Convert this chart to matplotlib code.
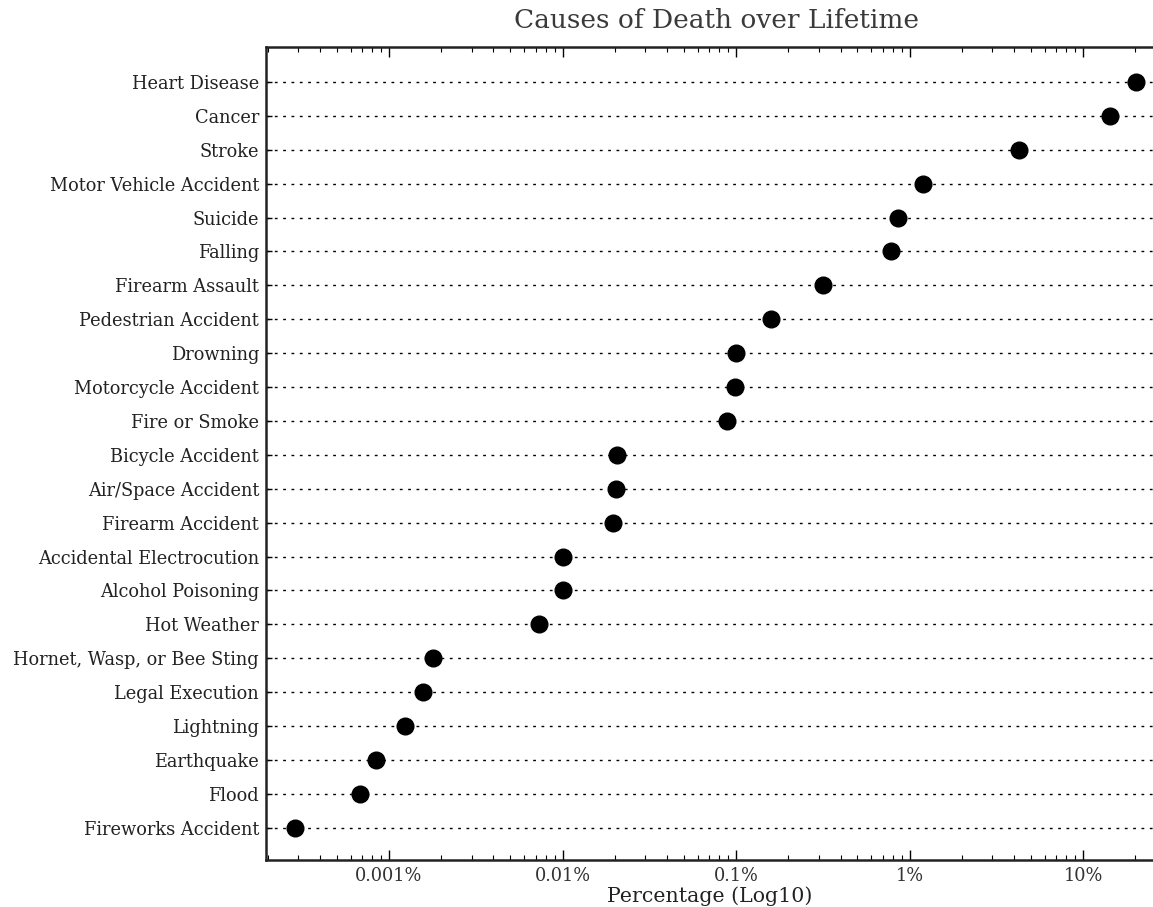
import numpy as np
import matplotlib
matplotlib.use("Agg")
import matplotlib.pyplot as plt
import matplotlib.ticker as ticker

causes = [
    "Heart Disease", "Cancer", "Stroke", "Motor Vehicle Accident", "Suicide",
    "Falling", "Firearm Assault", "Pedestrian Accident", "Drowning",
    "Motorcycle Accident", "Fire or Smoke", "Bicycle Accident",
    "Air/Space Accident", "Firearm Accident", "Accidental Electrocution",
    "Alcohol Poisoning", "Hot Weather", "Hornet, Wasp, or Bee Sting",
    "Legal Execution", "Lightning", "Earthquake", "Flood", "Fireworks Accident",
]
# lifetime odds, in percent
percent = [
    20.2, 14.3, 4.25, 1.2, 0.853,
    0.777, 0.315, 0.158, 0.0994,
    0.098, 0.089, 0.0206,
    0.0202, 0.0196, 0.0100,
    0.0100, 0.00727, 0.00179,
    0.00157, 0.00124, 0.00084, 0.00068, 0.000287,
]
xticks = [0.001, 0.01, 0.1, 1, 10]
xticklabels = ["0.001%", "0.01%", "0.1%", "1%", "10%"]

plt.rcParams['font.family'] = ['DejaVu Serif']

fig = plt.figure(figsize=(11.53, 9.07), dpi=100)
ax = fig.add_axes([266 / 1153, 47 / 907, 1 - 266 / 1153, 813 / 907])

ypos = np.arange(len(causes))
for y in ypos:
    ax.axhline(y, color='black', ls=(0, (2, 4)), lw=1.0, zorder=1)
ax.plot(percent, ypos, 'o', color='black', markersize=12, zorder=3)

ax.set_xscale('log')
ax.set_xlim(10 ** -3.709, 10 ** 1.403)
ax.set_ylim(22.95, -1.03)

ax.set_yticks(ypos)
ax.set_yticklabels(causes, fontsize=12.8, color='#222222')
ax.set_xticks(xticks)
ax.set_xticklabels(xticklabels, fontsize=12.8, color='#333333')
ax.xaxis.set_minor_locator(ticker.LogLocator(base=10, subs=np.arange(2, 10)))
ax.xaxis.set_minor_formatter(ticker.NullFormatter())

ax.tick_params(axis='x', which='major', direction='in', top=True, length=7, width=1, pad=5)
ax.tick_params(axis='x', which='minor', direction='in', top=True, length=3.5, width=0.8)
ax.tick_params(axis='y', which='major', direction='in', right=False, length=4, width=1, pad=5)

for side in ['left', 'bottom', 'top']:
    ax.spines[side].set_linewidth(1.8)
    ax.spines[side].set_color('#222222')
ax.spines['right'].set_visible(False)

ax.set_xlabel("Percentage (Log10)", fontsize=14.8, color='#222222', labelpad=1)
fig.text(716 / 1153, 1 - 20 / 907, "Causes of Death over Lifetime",
         fontsize=19, color='#3a3a3a', ha='center', va='center')

fig.savefig('out.png', dpi=100)
